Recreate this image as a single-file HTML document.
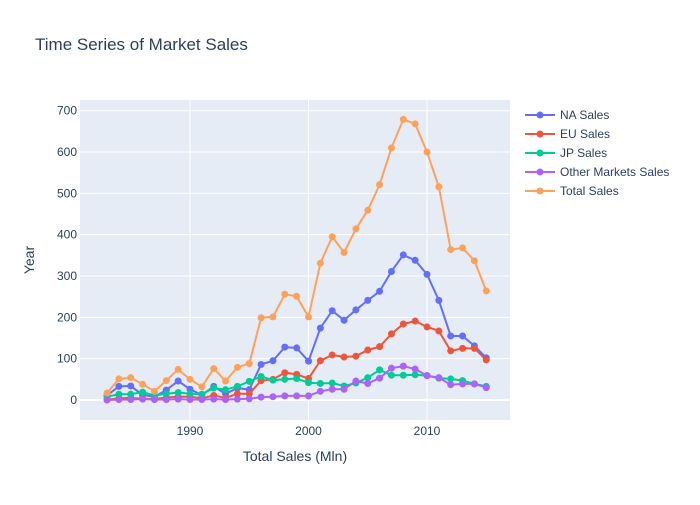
<!DOCTYPE html>
<html><head><meta charset="utf-8"><style>
body{margin:0;background:#fff;font-family:"Liberation Sans",sans-serif;}
</style></head><body>
<svg id="c" width="700" height="500" xmlns="http://www.w3.org/2000/svg" font-family="Liberation Sans, sans-serif"></svg>
<script>
const years=[];for(let y=1983;y<=2015;y++)years.push(y);
const naSales=[11,33,34,12,8,24,46,26,12,33,15,29,25,86,95,128,126,94,174,216,193,218,241,263,311,351,338,304,241,155,155,131,102];
const euSales=[1,4,5,3,2,6,8,8,4,11,5,15,15,47,50,66,62,52,95,109,104,106,121,129,160,184,191,177,167,119,125,125,97];
const jpSales=[8,14,14,19,11,15,18,15,14,29,25,33,45,57,48,50,52,42,40,41,34,41,54,73,60,60,61,59,53,51,47,39,33];
const otherSales=[0,1,1,2,1,1,2,1,1,2,1,2,3,7,8,10,10,10,21,26,26,46,40,53,77,82,75,59,54,37,39,39,30];
const totalSales=[17,51,54,38,21,47,74,50,32,76,46,79,88,199,201,256,251,201,331,395,357,414,459,521,610,679,668,600,516,364,368,337,264];
const yTicks=[0,100,200,300,400,500,600,700];
const xTicks=[1990,2000,2010];
const seriesNames=["NA Sales","EU Sales","JP Sales","Other Markets Sales","Total Sales"];
const colors=["#636efa","#EF553B","#00cc96","#ab63fa","#FFA15A"];
const allSeries=[naSales,euSales,jpSales,otherSales,totalSales];
const svg=document.getElementById('c');const NS="http://www.w3.org/2000/svg";
const L=80,R=510,T=100,B=420;
const xs=v=>190+(v-1990)*(427-190)/20;
const ys=v=>400-v*(400-110.7)/700;
function el(t,a,p){const e=document.createElementNS(NS,t);for(const k in a)e.setAttribute(k,a[k]);(p||svg).appendChild(e);return e;}
const bg=el('rect',{x:L,y:T,width:R-L,height:B-T,fill:'#e5ecf6'});


yTicks.forEach(v=>{const ln=el('line',{x1:L,x2:R,y1:ys(v),y2:ys(v),stroke:'#fff','stroke-width':v===0?2:1});


const t=el('text',{x:L-3,y:ys(v)+4,'text-anchor':'end','font-size':12,fill:'#2a3f5f'});t.textContent=v;

});
xTicks.forEach(v=>{const ln=el('line',{x1:xs(v),x2:xs(v),y1:T,y2:B,stroke:'#fff','stroke-width':1});


const t=el('text',{x:xs(v),y:B+15,'text-anchor':'middle','font-size':12,fill:'#2a3f5f'});t.textContent=v;

});
allSeries.forEach((s,i)=>{const g=el('g',{});


el('polyline',{points:s.map((v,j)=>xs(years[j])+','+ys(v)).join(' '),fill:'none',stroke:colors[i],'stroke-width':2},g);
s.forEach((v,j)=>{const c=el('circle',{cx:xs(years[j]),cy:ys(v),r:3.5,fill:colors[i]},g);

});
const lg=el('g',{});


const ly=115+i*19;
el('line',{x1:525,x2:555,y1:ly,y2:ly,stroke:colors[i],'stroke-width':2},lg);
el('circle',{cx:540,cy:ly,r:3.5,fill:colors[i]},lg);
const t=el('text',{x:560,y:ly+4,'font-size':12,fill:'#2a3f5f'},lg);t.textContent=seriesNames[i];});
const title=el('text',{x:35,y:50,'font-size':17,fill:'#2a3f5f'});title.textContent='Time Series of Market Sales';


const xt=el('text',{x:295,y:461,'text-anchor':'middle','font-size':14,fill:'#2a3f5f'});xt.textContent='Total Sales (Mln)';


const yt=el('text',{x:34,y:260,'text-anchor':'middle','font-size':14,fill:'#2a3f5f',transform:'rotate(-90 34 260)'});yt.textContent='Year';


</script>
</body></html>
